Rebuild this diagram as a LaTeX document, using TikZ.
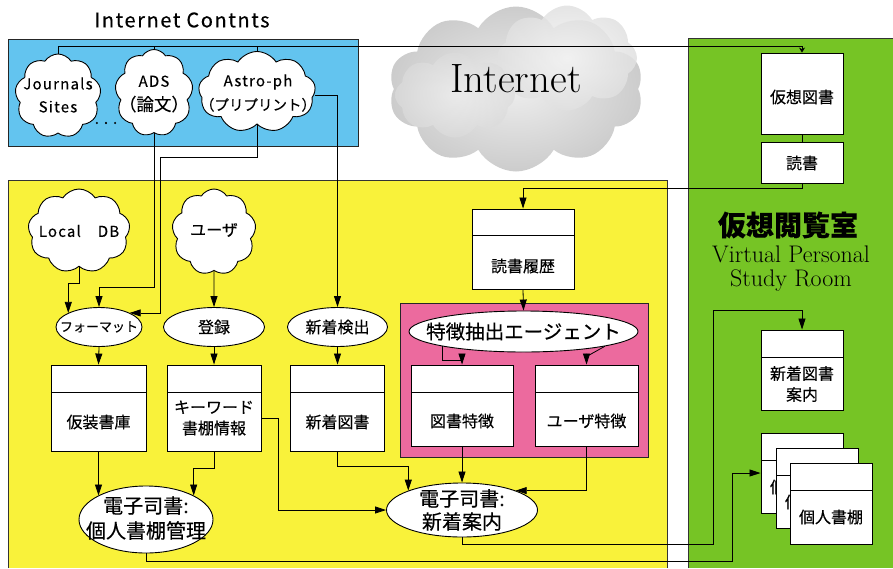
\documentclass[tikz,border=0pt]{standalone}
\usepackage{fontspec}
\newfontfamily\jp[FakeBold=0.3]{Noto Sans CJK JP}
\newfontfamily\jpl[LetterSpace=8,FakeBold=0.3]{Noto Sans CJK JP}
\usetikzlibrary{shapes.symbols,shapes.geometric,arrows.meta,calc}
\definecolor{cblue}{HTML}{63C4EF}
\definecolor{cyellow}{HTML}{F9F23A}
\definecolor{cgreen}{HTML}{76C425}
\definecolor{cpink}{HTML}{EC6A9E}
\newcommand\fsz[2]{\fontsize{#1pt}{#2pt}\selectfont}
\begin{document}
\begin{tikzpicture}[x=1pt,y=-1pt,
 every node/.style={font=\jp},
 arr/.style={-{Triangle[length=11pt,width=7pt]}, line width=0.8pt},
 ln/.style={line width=0.8pt},
 wcloud/.style={cloud, draw=black, fill=white, line width=0.9pt, cloud puffs=9, cloud puff arc=115, cloud ignores aspect, inner sep=0pt},
 oval/.style={ellipse, draw, fill=white, line width=0.9pt, inner sep=0pt},
 box/.style={draw, fill=white, line width=0.9pt, inner sep=0pt},
 hbox/.style={box, path picture={\draw[line width=0.9pt] ([yshift=-27pt]path picture bounding box.north west) -- ([yshift=-27pt]path picture bounding box.north east);}},
 lbl/.style={font=\jp\fsz{16}{21}, align=center, inner sep=0pt},
 txt/.style={align=center, inner sep=0pt},
 gcloud/.style={cloud, cloud ignores aspect, inner sep=0pt},
]
\useasboundingbox (0,0) rectangle (893,568);

% ---- areas
\fill[cyellow] (8,180) rectangle (667,568);
\draw[line width=0.9pt, black!80] (8,568) |- (667,180) -- (667,568);
\fill[cgreen] (688,38) rectangle (893,568);
\draw[line width=0.9pt, black!80] (688,568) |- (893,38);
\node[draw=black!85, fill=cblue, line width=0.9pt, minimum width=350, minimum height=107, inner sep=0pt, anchor=north west] (blue) at (8,39) {};
\node[draw=black!85, fill=cpink, line width=0.9pt, minimum width=248, minimum height=154, inner sep=0pt, anchor=north west] (pink) at (400,303) {};

% ---- internet cloud
\node[gcloud, cloud puffs=10, cloud puff arc=120, minimum width=255, minimum height=165, inner color=gray!14, outer color=gray!40] (inet) at (516,89) {};
\node[gcloud, cloud puffs=8, cloud puff arc=120, minimum width=140, minimum height=105, inner color=gray!8, outer color=gray!24, opacity=0.85] (inet2) at (567,58) {};
\node[gcloud, cloud puffs=8, cloud puff arc=120, minimum width=120, minimum height=85, inner color=gray!12, outer color=gray!28, opacity=0.7] (inet3) at (455,95) {};
\node[font=\rmfamily\fsz{41}{44}, inner sep=0pt] (inettext) at (516,79) {Internet};

% ---- titles
\node[font=\jpl\fsz{20}{24}, inner sep=0pt] (ictitle) at (182,20) {Internet Contnts};
\node[font=\jp\bfseries\fsz{28}{32}, inner sep=0pt] (vtitle) at (788,225) {仮想閲覧室};
\node[font=\rmfamily\fsz{24}{24}, align=center, inner sep=0pt] (vsub) at (791,268.5) {Virtual Personal\\Study Room};

% ---- clouds
\node[wcloud, minimum width=86, minimum height=84] (jn) at (58,96) {};
\node[txt, font=\jpl\fsz{15}{23}] (jnt) at (58,95) {Journals\\Sites};
\node[wcloud, minimum width=78, minimum height=87] (ads) at (154,93) {};
\node[txt, font=\jpl\fsz{15}{24}] (adst) at (154,94) {ADS\\{\jp\fsz{17.5}{24}（論文）}};
\node[wcloud, minimum width=117, minimum height=81] (ap) at (257,92) {};
\node[txt, font=\jpl\fsz{15}{24}] (apt) at (258,93) {Astro-ph\\{\jp\fsz{14.5}{24}（プリプリント）}};
\node[font=\jp\fsz{15}{18}, inner sep=0pt] (dots) at (106,123) {.\,\,.\,\,.};
\node[wcloud, minimum width=102, minimum height=84] (ldb) at (79,231) {};
\node[txt, font=\jpl\fsz{15}{20}] (ldbt) at (79,231) {Local\hspace{17pt}DB};
\node[wcloud, minimum width=84, minimum height=86] (uc) at (214,232) {};
\node[txt, font=\jp\fsz{16}{20}] (uct) at (214,230) {ユーザ};

% ---- ellipses
\node[oval, minimum width=86, minimum height=39] (fm) at (99,327) {};
\node[txt, font=\jp\fsz{13}{16}] (fmt) at (99,327) {フォーマット};
\node[oval, minimum width=101, minimum height=39] (reg) at (214,327) {};
\node[txt, font=\jp\fsz{16}{20}] (regt) at (214,327) {登録};
\node[oval, minimum width=100, minimum height=39] (nd) at (337.5,327) {};
\node[txt, font=\jp\fsz{16}{20}] (ndt) at (337.5,327) {新着検出};
\node[oval, minimum width=229, minimum height=41] (fe) at (523.5,331.5) {};
\node[txt, font=\jp\fsz{19.5}{22}] (fet) at (523.5,331.5) {特徴抽出エージェント};
\node[oval, minimum width=134, minimum height=67] (e1) at (146,519.5) {};
\node[txt, font=\jp\fsz{20}{25}] (e1t) at (146,518) {電子司書:\\個人書棚管理};
\node[oval, minimum width=151, minimum height=54] (e2) at (462,510) {};
\node[txt, font=\jp\fsz{20}{23}] (e2t) at (462,510) {電子司書:\\新着案内};

% ---- boxes
\node[hbox, minimum width=95, minimum height=86] (b1) at (98.5,408) {};
\node[lbl] (b1t) at (98.5,422) {仮装書庫};
\node[hbox, minimum width=94, minimum height=86] (b2) at (214,408) {};
\node[lbl] (b2t) at (214,418) {キーワード\\書棚情報};
\node[hbox, minimum width=94, minimum height=86] (b3) at (337.5,408) {};
\node[lbl] (b3t) at (337.5,422) {新着図書};
\node[hbox, minimum width=102, minimum height=81] (b4) at (462,405.5) {};
\node[lbl] (b4t) at (462,421) {図書特徴};
\node[hbox, minimum width=103, minimum height=81] (b5) at (586.5,405.5) {};
\node[lbl] (b5t) at (586.5,421) {ユーザ特徴};
\node[box, minimum width=102, minimum height=80, path picture={\draw[line width=0.9pt] ([yshift=-26pt]path picture bounding box.north west) -- ([yshift=-26pt]path picture bounding box.north east);}] (b6) at (523,249) {};
\node[lbl] (b6t) at (523,266) {読書履歴};

% ---- green area boxes
\node[box, minimum width=82, minimum height=81] (g1) at (802,93.5) {};
\node[lbl] (g1t) at (802,97) {仮想図書};
\node[box, minimum width=82, minimum height=41] (g2) at (802,162.5) {};
\node[lbl] (g2t) at (802,163) {読書};
\node[hbox, minimum width=82, minimum height=80] (g3) at (802,370) {};
\node[lbl] (g3t) at (802,384) {新着図書\\案内};
\node[hbox, minimum width=82, minimum height=80] (c1) at (802,473) {};
\node[lbl] (c1t) at (802,487) {個人書棚};
\node[hbox, minimum width=82, minimum height=80] (c2) at (817,488) {};
\node[lbl] (c2t) at (817,502) {個人書棚};
\node[hbox, minimum width=82, minimum height=81] (c3) at (831,503.5) {};
\node[lbl] (c3t) at (831,517) {個人書棚};

% ---- connectors
\coordinate (topy) at (0,46);
\draw[ln, -{Stealth[length=5pt,width=6pt]}] (jn.north) |- (topy -| g1.north) -- (g1.north);
\draw[ln] (ads.north) -- (ads.north |- topy);
\draw[ln] (ap.north) -- (ap.north |- topy);
\draw[ln] (g1.south) -- (g2.north);
\draw[arr] (g2.south) -- ++(0,5) -| (b6.north);
\draw[arr] (ads.south) |- ([yshift=20pt]fm.north) -- (fm.north);
\draw[arr] (ap.south) -- ++(0,33) -| ([xshift=31pt]fm.north east) -- (fm.north east);
\draw[arr] ([yshift=-3pt]ap.east) -| (nd.north);
\draw[arr] (ldb.south) -- ++(0,17) -| (fm.north west);
\draw[arr] (uc.south) -- (reg.north);
\draw[arr] (fm.south) -- (b1.north);
\draw[arr] (reg.south) -- (b2.north);
\draw[arr] (nd.south) -- (b3.north);
\draw[arr] (b6.south) -- (fe.north);
\draw[arr] (fe.south west) -- ++(0,14) -| (b4.north);
\draw[arr] (fe.south east) -- ([yshift=8pt]b5.north) -- (b5.north);
\draw[arr] (b1.south) -- (b1.south |- e1.north west);
\draw[arr] (b2.south) -- ++(0,17) -| (e1.north east);
\draw[arr] ([yshift=-10pt]b2.east) -- ++(17,0) |- (e2.west);
\draw[arr] (b3.south) -- ++(0,15) -| (e2.north west);
\draw[arr] (b4.south) -- (e2.north);
\draw[arr] (b5.south) |- (e2.north east);
\draw[arr] (e2.south) -- ++(0,7) -| ([xshift=-89pt,yshift=19pt]g3.north) -| (g3.north);
\draw[arr] (e1.south) -- ++(0,8) -| ([xshift=-28pt]c1.west) -- (c1.west);
\end{tikzpicture}
\end{document}
